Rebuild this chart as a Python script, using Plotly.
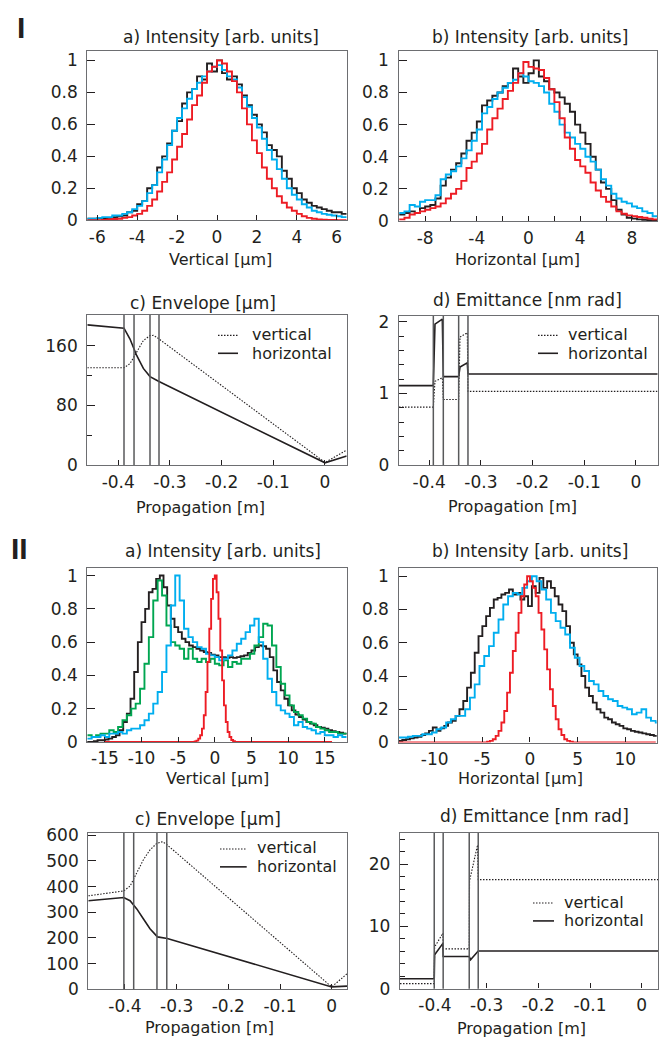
import plotly.graph_objects as go

W, H = 660, 1053

# ---------------- DATA ----------------
# Panel I a) vertical intensity profiles (histograms, bin start / width / values)
IA_START, IA_WIDTH = -6.5, 0.25
IA_BLACK = [0.01, 0.01, 0.012, 0.01, 0.015, 0.02, 0.025, 0.03, 0.05, 0.06, 0.1, 0.12, 0.2, 0.22,
            0.33, 0.4, 0.48, 0.56, 0.62, 0.73, 0.8, 0.82, 0.9, 0.88, 0.98, 0.93, 1.0, 0.92, 0.88,
            0.9, 0.85, 0.78, 0.72, 0.66, 0.6, 0.55, 0.47, 0.44, 0.4, 0.31, 0.26, 0.2, 0.17, 0.13,
            0.11, 0.09, 0.08, 0.07, 0.06, 0.05, 0.05, 0.04]
IA_BLUE = [0.01, 0.01, 0.015, 0.02, 0.02, 0.03, 0.03, 0.04, 0.05, 0.07, 0.09, 0.12, 0.17, 0.22,
           0.3, 0.38, 0.47, 0.56, 0.64, 0.7, 0.76, 0.82, 0.86, 0.9, 0.93, 0.96, 0.97, 0.94, 0.9,
           0.88, 0.83, 0.77, 0.71, 0.64, 0.58, 0.51, 0.44, 0.38, 0.32, 0.26, 0.2, 0.16, 0.13, 0.1,
           0.08, 0.06, 0.05, 0.04, 0.035, 0.03, 0.025, 0.02]
IA_RED = [0.0, 0.0, 0.0, 0.003, 0.005, 0.008, 0.01, 0.015, 0.02, 0.03, 0.04, 0.06, 0.09, 0.13,
          0.18, 0.24, 0.3, 0.38, 0.46, 0.54, 0.63, 0.72, 0.78, 0.86, 0.93, 0.96, 1.0, 0.98, 0.93,
          0.87, 0.8, 0.7, 0.6, 0.5, 0.42, 0.33, 0.26, 0.2, 0.15, 0.11, 0.08, 0.06, 0.04, 0.025,
          0.015, 0.01, 0.006, 0.004, 0.003, 0.002, 0.001, 0.0]

# Panel I b) horizontal intensity profiles
IB_START, IB_WIDTH = -10.0, 0.4
IB_BLACK = [0.04, 0.05, 0.06, 0.05, 0.08, 0.09, 0.1, 0.14, 0.22, 0.27, 0.32, 0.36, 0.42, 0.5,
            0.55, 0.62, 0.72, 0.75, 0.78, 0.8, 0.84, 0.86, 0.95, 0.9, 0.86, 0.92, 1.0, 0.9, 0.87,
            0.82, 0.8, 0.77, 0.73, 0.68, 0.6, 0.55, 0.48, 0.4, 0.32, 0.24, 0.2, 0.13, 0.07, 0.04,
            0.02, 0.015, 0.01, 0.008, 0.005, 0.003]
IB_BLUE = [0.05, 0.06, 0.1, 0.09, 0.12, 0.13, 0.13, 0.16, 0.26, 0.29, 0.31, 0.34, 0.39, 0.44,
           0.5, 0.57, 0.67, 0.71, 0.76, 0.8, 0.83, 0.86, 0.88, 0.92, 0.9, 0.87, 0.86, 0.84, 0.8,
           0.73, 0.68, 0.6, 0.55, 0.52, 0.48, 0.45, 0.4, 0.37, 0.32, 0.26, 0.22, 0.17, 0.14, 0.12,
           0.11, 0.09, 0.08, 0.06, 0.05, 0.03]
IB_RED = [0.01, 0.02, 0.04, 0.05, 0.06, 0.07, 0.08, 0.09, 0.11, 0.14, 0.17, 0.2, 0.25, 0.33,
          0.37, 0.42, 0.48, 0.57, 0.64, 0.7, 0.76, 0.81, 0.86, 0.92, 0.99, 0.96, 0.95, 0.94, 0.89,
          0.82, 0.74, 0.64, 0.52, 0.45, 0.38, 0.34, 0.3, 0.24, 0.19, 0.15, 0.12, 0.09, 0.06, 0.045,
          0.035, 0.03, 0.025, 0.02, 0.015, 0.01]

# Panel I c) envelope [um] vs propagation [m]
IC_H_X = [-0.4598, -0.3888, -0.3772, -0.3643, -0.3514, -0.3385, -0.3211, 0.0, 0.042]
IC_H_Y = [188, 183.6, 169, 147, 129.6, 118.6, 112, 3, 12]
IC_V_X = [-0.4598, -0.3888, -0.3772, -0.3643, -0.3514, -0.3385, -0.332, -0.3256, 0.0, 0.042]
IC_V_Y = [130.5, 130.5, 136, 151.6, 167, 173.6, 174, 171.4, 3.5, 20]
IC_ELEMENTS = [-0.3888, -0.3694, -0.3385, -0.3211]

# Panel I d) emittance [nm rad]
ID_H_X = [-0.4584, -0.392, -0.3888, -0.3746, -0.3727, -0.343, -0.3404, -0.3263, -0.325, 0.042]
ID_H_Y = [1.11, 1.11, 1.97, 2.04, 1.236, 1.236, 1.37, 1.43, 1.273, 1.273]
ID_V_X = [-0.4584, -0.392, -0.3888, -0.3746, -0.3727, -0.343, -0.3404, -0.3263, -0.325, 0.042]
ID_V_Y = [0.81, 0.81, 1.17, 1.22, 0.916, 0.916, 1.79, 1.85, 1.03, 1.03]
ID_ELEMENTS = [-0.392, -0.3727, -0.343, -0.325]

# Panel II a) vertical intensity profiles
IIA_BLACK_START, IIA_BLACK_WIDTH = -17.5, 0.5
IIA_BLACK = [0.0, 0.0, 0.005, 0.01, 0.01, 0.015, 0.02, 0.03, 0.04, 0.07, 0.12, 0.17, 0.26, 0.42,
             0.6, 0.72, 0.8, 0.9, 0.92, 0.98, 1.0, 0.93, 0.82, 0.74, 0.69, 0.66, 0.62, 0.6, 0.58,
             0.57, 0.56, 0.55, 0.54, 0.535, 0.525, 0.52, 0.51, 0.51, 0.505, 0.51, 0.505, 0.51,
             0.515, 0.52, 0.535, 0.55, 0.57, 0.58, 0.575, 0.56, 0.51, 0.43, 0.36, 0.31, 0.26,
             0.22, 0.19, 0.165, 0.15, 0.135, 0.12, 0.11, 0.1, 0.09, 0.085, 0.08, 0.07, 0.065,
             0.06, 0.055, 0.05]
IIA_GB_START, IIA_GB_WIDTH = -17.4, 0.6
IIA_GREEN = [0.04, 0.03, 0.04, 0.05, 0.05, 0.07, 0.06, 0.09, 0.13, 0.16, 0.2, 0.23, 0.32, 0.47,
             0.63, 0.85, 0.97, 0.88, 0.7, 0.6, 0.58, 0.56, 0.5, 0.56, 0.5, 0.48, 0.5, 0.48, 0.5,
             0.47, 0.46, 0.49, 0.45, 0.48, 0.47, 0.5, 0.5, 0.53, 0.58, 0.63, 0.71, 0.7, 0.58,
             0.45, 0.35, 0.28, 0.22, 0.18, 0.16, 0.14, 0.12, 0.11, 0.09, 0.08, 0.07, 0.06, 0.06,
             0.05, 0.05]
IIA_BLUE = [0.02, 0.03, 0.03, 0.04, 0.03, 0.05, 0.05, 0.06, 0.05, 0.07, 0.08, 0.08, 0.1, 0.13,
            0.17, 0.23, 0.3, 0.42, 0.58, 0.82, 1.0, 0.85, 0.68, 0.63, 0.6, 0.57, 0.56, 0.53, 0.52,
            0.51, 0.49, 0.5, 0.52, 0.55, 0.59, 0.62, 0.66, 0.7, 0.74, 0.6, 0.5, 0.38, 0.3, 0.22,
            0.19, 0.17, 0.15, 0.1, 0.12, 0.09, 0.08, 0.07, 0.05, 0.06, 0.04, 0.04, 0.03, 0.04, 0.03]
IIA_RED_START, IIA_RED_WIDTH = -15.0, 0.25
IIA_RED = ([0.0] * 48 +
           [0.0, 0.003, 0.008, 0.02, 0.04, 0.08, 0.16, 0.3, 0.48, 0.68, 0.86, 0.98,
            1.0, 0.9, 0.74, 0.55, 0.37, 0.22, 0.12, 0.06, 0.03, 0.012, 0.005, 0.0] +
           [0.0] * 52)

# Panel II b) horizontal intensity profiles
IIB_BLACK_START, IIB_BLACK_WIDTH = -13.8, 0.4
IIB_BLACK = [0.01, 0.015, 0.02, 0.025, 0.03, 0.035, 0.045, 0.055, 0.07, 0.09, 0.07, 0.085, 0.1,
             0.12, 0.13, 0.16, 0.2, 0.25, 0.33, 0.42, 0.54, 0.64, 0.7, 0.76, 0.81, 0.86, 0.87,
             0.89, 0.9, 0.92, 0.89, 0.9, 0.86, 0.88, 0.82, 0.94, 0.9, 0.99, 0.93, 0.97, 0.93,
             0.88, 0.83, 0.79, 0.7, 0.6, 0.53, 0.47, 0.4, 0.33, 0.28, 0.24, 0.2, 0.18, 0.15,
             0.14, 0.12, 0.11, 0.1, 0.085, 0.08, 0.07, 0.065, 0.06, 0.055, 0.05, 0.045, 0.04]
IIB_BLUE_START, IIB_BLUE_WIDTH = -13.8, 0.5
IIB_BLUE = [0.03, 0.03, 0.035, 0.04, 0.04, 0.05, 0.05, 0.06, 0.08, 0.09, 0.12, 0.14, 0.16, 0.16,
            0.2, 0.27, 0.35, 0.46, 0.52, 0.58, 0.66, 0.74, 0.83, 0.88, 0.9, 0.89, 0.93, 0.97,
            1.0, 0.97, 0.92, 0.86, 0.78, 0.73, 0.69, 0.65, 0.57, 0.51, 0.46, 0.43, 0.37, 0.35,
            0.31, 0.28, 0.26, 0.25, 0.22, 0.21, 0.2, 0.17, 0.18, 0.2, 0.15, 0.13, 0.12]
IIB_RED_START, IIB_RED_WIDTH = -13.8, 0.3
IIB_RED = ([0.0] * 30 +
           [0.0, 0.005, 0.01, 0.02, 0.04, 0.07, 0.12, 0.19, 0.3, 0.42, 0.55, 0.66, 0.78, 0.88,
            0.95, 1.0, 0.97, 0.93, 0.88, 0.78, 0.68, 0.56, 0.44, 0.32, 0.22, 0.14, 0.08, 0.045,
            0.02, 0.01, 0.005, 0.0] +
           [0.0] * 28)

# Panel II c) envelope
IIC_H_X = [-0.4708, -0.4023, -0.390, -0.377, -0.3644, -0.3515, -0.337, -0.318, 0.0, 0.0296]
IIC_H_Y = [345, 357.6, 345, 313, 274.6, 236, 204, 198, 9, 12]
IIC_V_X = [-0.4708, -0.4023, -0.390, -0.377, -0.3644, -0.3515, -0.3385, -0.327, -0.318, 0.0, 0.0296]
IIC_V_Y = [364, 383, 402, 453, 504, 543, 568, 575, 562, 9, 60]
IIC_ELEMENTS = [-0.402, -0.383, -0.338, -0.319]

# Panel II d) emittance
IID_H_X = [-0.4675, -0.4013, -0.4005, -0.3845, -0.384, -0.3336, -0.331, -0.3175, -0.3162, 0.0321]
IID_H_Y = [1.6, 1.6, 5.43, 7.27, 5.17, 5.17, 4.65, 6.1, 6.05, 6.05]
IID_V_X = [-0.4675, -0.4013, -0.4005, -0.3845, -0.384, -0.3336, -0.333, -0.3175, -0.3162, 0.0321]
IID_V_Y = [0.8, 0.8, 6.7, 8.9, 6.38, 6.38, 17.3, 23.07, 17.5, 17.5]
IID_ELEMENTS = [-0.4013, -0.384, -0.3336, -0.3162]

LEGEND_LABELS = ["vertical", "horizontal"]

# tick values / labels (hyphen minus as in the reference)
TICKS_IA = [-6, -4, -2, 0, 2, 4, 6]
TICKS_IB = [-8, -4, 0, 4, 8]
TICKS_IIA = [-15, -10, -5, 0, 5, 10, 15]
TICKS_IIB = [-10, -5, 0, 5, 10]
TICKS_PROP = [-0.4, -0.3, -0.2, -0.1, 0]
TICKTEXT_PROP = ["-0.4", "-0.3", "-0.2", "-0.1", "0"]

# ---------------- STYLE ----------------
FONT = "DejaVu Sans"
TXT = "#231f20"
FRAME = "#6d6e71"
BLACK = "#231f20"
BLUE = "#00aeef"
RED = "#ed1c24"
GREEN = "#00a651"
DOT = "1.5px,1.5px"


def steps(start, width, vals):
    xs = [start + width * i for i in range(len(vals) + 1)]
    ys = list(vals) + [vals[-1]]
    return xs, ys


fig = go.Figure()


def hist(ax, start, width, vals, color):
    xs, ys = steps(start, width, vals)
    fig.add_trace(go.Scatter(x=xs, y=ys, mode="lines", line=dict(color=color, width=1.9, shape="hv"),
                             xaxis="x" + ax, yaxis="y" + ax, showlegend=False, hoverinfo="skip"))


def curve(ax, xs, ys, dotted):
    fig.add_trace(go.Scatter(x=xs, y=ys, mode="lines",
                             line=dict(color=BLACK, width=1.1 if dotted else 1.6,
                                       dash=DOT if dotted else "solid"),
                             xaxis="x" + ax, yaxis="y" + ax, showlegend=False, hoverinfo="skip"))


# Panel I a
hist("", IA_START, IA_WIDTH, IA_BLACK, BLACK)
hist("", IA_START, IA_WIDTH, IA_BLUE, BLUE)
hist("", IA_START, IA_WIDTH, IA_RED, RED)
# Panel I b
hist("2", IB_START, IB_WIDTH, IB_BLACK, BLACK)
hist("2", IB_START, IB_WIDTH, IB_BLUE, BLUE)
hist("2", IB_START, IB_WIDTH, IB_RED, RED)
# Panel I c
curve("3", IC_V_X, IC_V_Y, True)
curve("3", IC_H_X, IC_H_Y, False)
# Panel I d
curve("4", ID_V_X, ID_V_Y, True)
curve("4", ID_H_X, ID_H_Y, False)
# Panel II a
hist("5", IIA_BLACK_START, IIA_BLACK_WIDTH, IIA_BLACK, BLACK)
hist("5", IIA_GB_START, IIA_GB_WIDTH, IIA_GREEN, GREEN)
hist("5", IIA_GB_START, IIA_GB_WIDTH, IIA_BLUE, BLUE)
hist("5", IIA_RED_START, IIA_RED_WIDTH, IIA_RED, RED)
# Panel II b
hist("6", IIB_BLACK_START, IIB_BLACK_WIDTH, IIB_BLACK, BLACK)
hist("6", IIB_BLUE_START, IIB_BLUE_WIDTH, IIB_BLUE, BLUE)
hist("6", IIB_RED_START, IIB_RED_WIDTH, IIB_RED, RED)
# Panel II c
curve("7", IIC_V_X, IIC_V_Y, True)
curve("7", IIC_H_X, IIC_H_Y, False)
# Panel II d
curve("8", IID_V_X, IID_V_Y, True)
curve("8", IID_H_X, IID_H_Y, False)


def px_x(p):
    return p / W


def px_y(p):
    return 1 - p / H


def lbl(v):
    return "%g" % v


def axis_common(**kw):
    d = dict(showline=True, mirror=True, linecolor=FRAME, linewidth=1.3, showgrid=False,
             zeroline=False, ticks="inside", tickcolor=TXT, tickwidth=1, tickangle=0,
             tickfont=dict(family=FONT, size=17, color=TXT))
    d.update(kw)
    return d


def arr(vals, texts=None):
    return dict(tickmode="array", tickvals=vals, ticktext=texts if texts else [lbl(v) for v in vals])


def minor(dt):
    return dict(minor=dict(tickmode="linear", tick0=0, dtick=dt, ticks="inside", ticklen=5,
                           tickcolor=TXT, tickwidth=1))


# pixel boxes: (left, right, top, bottom)
boxes = {
    "": (87.3, 346.7, 44, 216),
    "2": (398.5, 657, 44, 216.7),
    "3": (87.3, 346.7, 312.3, 465),
    "4": (399, 657.7, 313.3, 465),
    "5": (87.3, 346.7, 569.3, 746.7),
    "6": (398.5, 656.7, 570, 747.3),
    "7": (88.3, 347, 839.3, 998.3),
    "8": (400, 658.3, 839.3, 997.7),
}

xspec = {
    "": dict(range=[-6.5, 6.5], **arr(TICKS_IA)),
    "2": dict(range=[-10.06, 9.94], **arr(TICKS_IB), **minor(2)),
    "3": dict(range=[-0.4598, 0.042], **arr(TICKS_PROP, TICKTEXT_PROP)),
    "4": dict(range=[-0.4584, 0.042], **arr(TICKS_PROP, TICKTEXT_PROP)),
    "5": dict(range=[-17.4, 18.0], **arr(TICKS_IIA)),
    "6": dict(range=[-13.8, 13.3], **arr(TICKS_IIB)),
    "7": dict(range=[-0.4708, 0.0296], **arr(TICKS_PROP, TICKTEXT_PROP)),
    "8": dict(range=[-0.4675, 0.0321], **arr(TICKS_PROP, TICKTEXT_PROP)),
}
yspec = {
    "": dict(range=[0, 1.057], dtick=0.2, tick0=0),
    "2": dict(range=[0, 1.057], dtick=0.2, tick0=0),
    "3": dict(range=[0, 201.3], dtick=80, tick0=0, **minor(40)),
    "4": dict(range=[0, 2.084], dtick=1, tick0=0, **minor(0.2)),
    "5": dict(range=[0, 1.048], dtick=0.2, tick0=0),
    "6": dict(range=[0, 1.048], dtick=0.2, tick0=0),
    "7": dict(range=[0, 609], dtick=100, tick0=0),
    "8": dict(range=[0, 25], dtick=10, tick0=0, **minor(2)),
}

layout = {}
for k, (l, r, t, b) in boxes.items():
    layout["xaxis" + k] = axis_common(domain=[px_x(l), px_x(r)], anchor="y" + k, ticklen=5,
                                      ticklabelstandoff=1, **xspec[k])
    layout["yaxis" + k] = axis_common(domain=[px_y(b), px_y(t)], anchor="x" + k, ticklen=8,
                                      ticklabelstandoff=5, **yspec[k])

fig.update_layout(**layout)

shapes = []
# optical element boundaries
for ax, elems in (("3", IC_ELEMENTS), ("4", ID_ELEMENTS), ("7", IIC_ELEMENTS), ("8", IID_ELEMENTS)):
    for e in elems:
        shapes.append(dict(type="line", xref="x" + ax, yref="y" + ax + " domain", x0=e, x1=e, y0=0, y1=1,
                           line=dict(color="#58595b", width=1.5)))

annotations = []


def ann(text, x, y, size=17, xanchor="center", bold=False, family=FONT):
    annotations.append(dict(text=text, x=px_x(x), y=px_y(y), xref="paper", yref="paper",
                            xanchor=xanchor, yanchor="middle", showarrow=False,
                            font=dict(family=family, size=size, color=TXT,
                                      weight="bold" if bold else "normal")))


# legends (sample lines + text): (sample x0, sample x1, text x, middle y between the two rows)
for (sx0, sx1, tx, ym) in ((218, 238, 250, 341.7),
                           (538, 558, 566, 341.7),
                           (220, 246.7, 255, 864.2),
                           (533, 554, 561.7, 919.2)):
    yv, yh = ym - 9.6, ym + 9.6
    shapes.append(dict(type="line", xref="paper", yref="paper", x0=px_x(sx0), x1=px_x(sx1),
                       y0=px_y(yv + 1), y1=px_y(yv + 1), line=dict(color=BLACK, width=1.1, dash=DOT)))
    shapes.append(dict(type="line", xref="paper", yref="paper", x0=px_x(sx0), x1=px_x(sx1),
                       y0=px_y(yh), y1=px_y(yh), line=dict(color=BLACK, width=1.6)))
    ann(LEGEND_LABELS[0], tx, yv, size=16, xanchor="left")
    ann(LEGEND_LABELS[1], tx, yh, size=16, xanchor="left")

# section labels
ann("I", 21, 20, size=30, bold=True, family="Liberation Sans")
ann("II", 19, 550, size=30, bold=True, family="Liberation Sans")

# panel titles
ann("a) Intensity [arb. units]", 221, 30)
ann("b) Intensity [arb. units]", 530, 30)
ann("c) Envelope [µm]", 203, 300)
ann("d) Emittance [nm rad]", 527.5, 297.5)
ann("a) Intensity [arb. units]", 222.7, 552.5)
ann("b) Intensity [arb. units]", 529.5, 552.5)
ann("c) Envelope [µm]", 208.3, 825)
ann("d) Emittance [nm rad]", 534, 822.5)

# axis titles
ann("Vertical [µm]", 220, 255.5, size=16)
ann("Horizontal [µm]", 517.5, 255.5, size=16)
ann("Propagation [m]", 200.8, 508.5, size=16)
ann("Propagation [m]", 512.5, 507.5, size=16)
ann("Vertical [µm]", 217, 784, size=16)
ann("Horizontal [µm]", 520, 784, size=16)
ann("Propagation [m]", 209, 1037.5, size=16)
ann("Propagation [m]", 521.5, 1038, size=16)

fig.update_layout(width=W, height=H, margin=dict(l=0, r=0, t=0, b=0),
                  paper_bgcolor="white", plot_bgcolor="white",
                  font=dict(family=FONT, color=TXT),
                  shapes=shapes, annotations=annotations, showlegend=False)

fig.write_html("out.html", config={"displayModeBar": False},
               post_script="document.body.style.margin='0';document.body.style.overflow='hidden';")
